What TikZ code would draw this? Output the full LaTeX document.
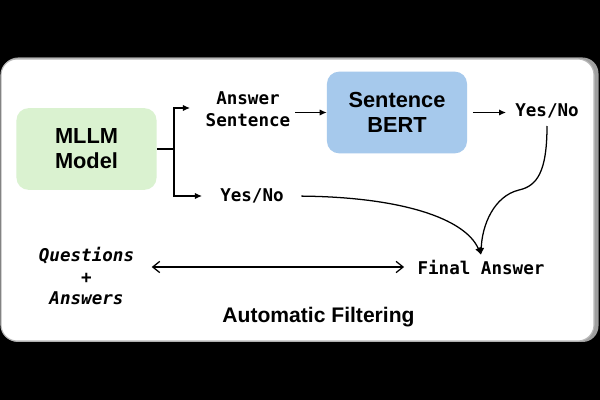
\documentclass[tikz,border=0pt]{standalone}
\usepackage{fontspec}
\setmainfont{Liberation Sans}
\setmonofont{DejaVu Sans Mono}
\usetikzlibrary{arrows.meta}
\definecolor{boxgreen}{HTML}{DAF2D0}
\definecolor{boxblue}{HTML}{A6C9EC}
\begin{document}
\begin{tikzpicture}[x=0.025cm,y=-0.025cm,
  procbox/.style={rounded corners=0.3cm, minimum width=3.5cm, minimum height=2.04cm,
    align=center, font=\fontsize{15.5}{17.8}\selectfont\bfseries, inner sep=0pt},
  monotxt/.style={align=center, font=\fontsize{12.5}{15.6}\selectfont\ttfamily\bfseries},
  conn/.style={line width=0.9pt},
  arr/.style={conn, -{Latex[length=5pt,width=4.5pt]}},
  darr/.style={conn, {Straight Barb[length=5pt,width=8pt]}-{Straight Barb[length=5pt,width=8pt]}}
]
\useasboundingbox (0,0) rectangle (600,400);
\fill[black] (0,0) rectangle (600,400);
\fill[gray!75, rounded corners=0.4cm] (2,57.5) rectangle (598.5,342);
\filldraw[fill=white, draw=gray!55, line width=0.8pt, rounded corners=0.4cm] (1,59) rectangle (594,341);

\node[procbox, fill=boxgreen] (mllm) at (86.5,149) {MLLM\\Model};
\node[procbox, fill=boxblue] (bert) at (397,112.5) {Sentence\\BERT};
\node[monotxt] (ans) at (248,109) {Answer\\Sentence};
\node[monotxt] (yn1) at (252,196) {Yes/No};
\node[monotxt] (yn2) at (547,111) {Yes/No};
\node[monotxt] (fa) at (481,267) {Final Answer};
\node[monotxt, font=\fontsize{12.5}{15.6}\selectfont\ttfamily\bfseries\itshape] (qa) at (86.5,276) {Questions\\+\\Answers};
\node[font=\fontsize{15}{18}\selectfont\bfseries] (af) at (318.5,317) {Automatic Filtering};

\coordinate (br) at (174,149);
\coordinate (t1) at (190,108);
\coordinate (t2) at (202,196);
\draw[conn] (mllm.east) -- (br);
\draw[arr] (br) |- (t1);
\draw[arr] (br) |- (t2);
\draw[arr] (ans.east |- bert.west) -- (bert.west);
\draw[arr, shorten <=4pt, shorten >=3pt] (bert.east) -- (yn2.west |- bert.east);
\draw[arr, shorten <=2pt] (yn2.south) .. controls (547,172) and (537,186) .. (519,190)
   .. controls (494,196) and (482,225) .. (fa.north);
\draw[arr, shorten <=9pt] (yn1.east) .. controls (400,197) and (465,218) .. (fa.north);
\draw[darr, shorten <=9pt, shorten >=6pt] (qa.east |- fa.west) -- (fa.west);
\end{tikzpicture}
\end{document}
